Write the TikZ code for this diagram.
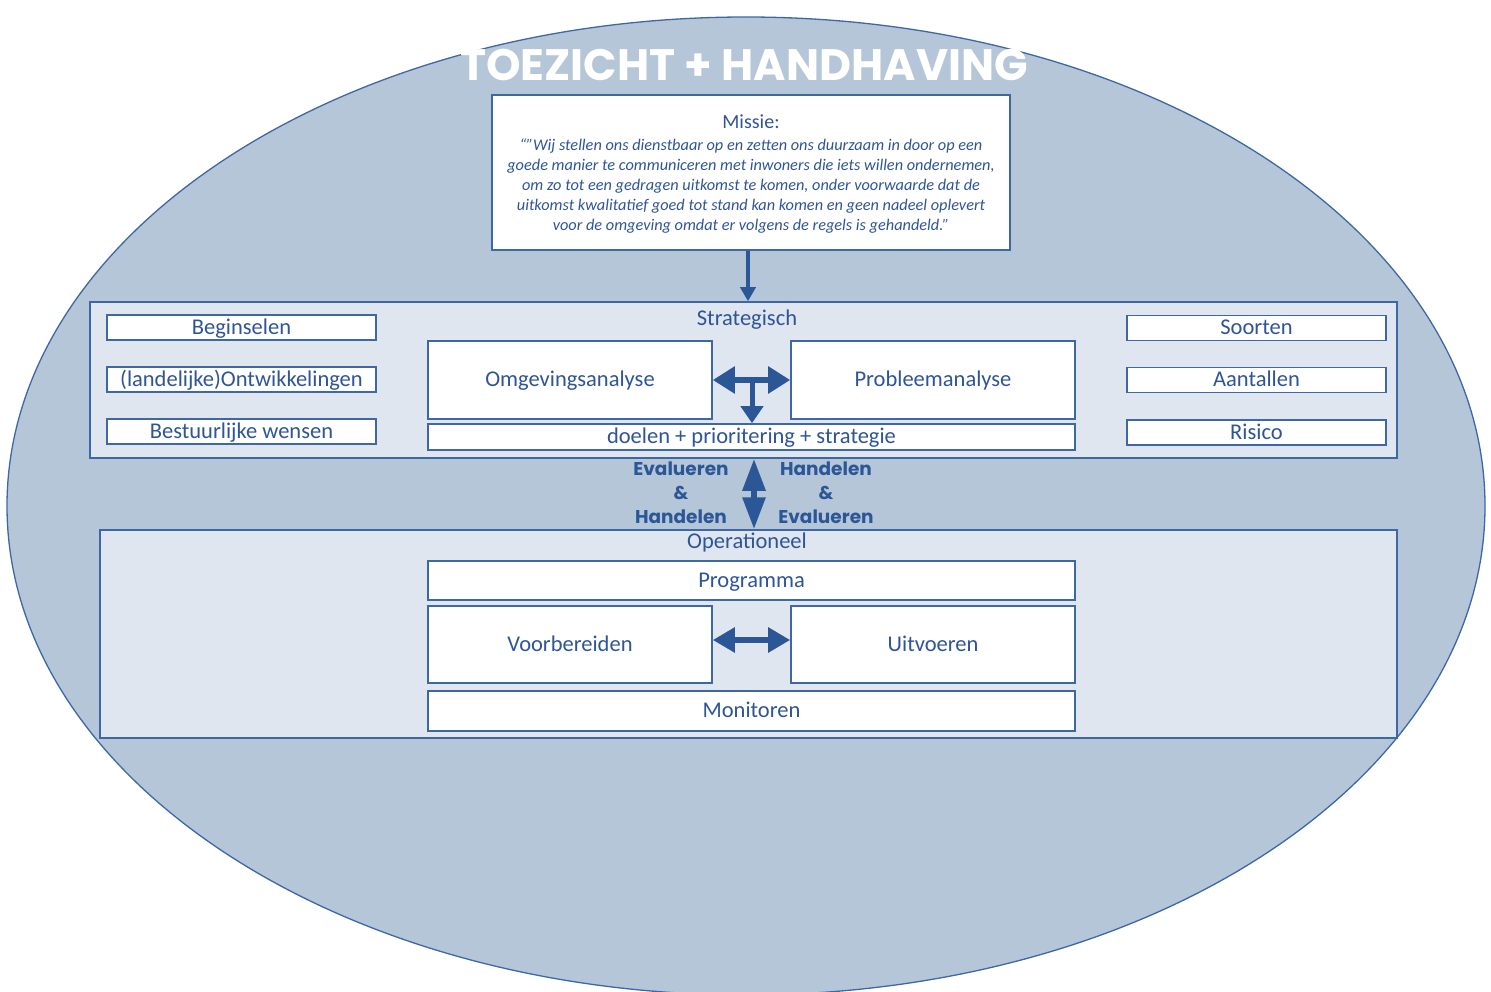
\documentclass[tikz,border=0pt]{standalone}
\usepackage{fontspec}
\setmainfont{Carlito}
\newfontfamily\titlefont{Poppins}
\usetikzlibrary{arrows.meta}
\definecolor{ellfill}{HTML}{B5C6D9}
\definecolor{edgeblue}{HTML}{3D68A5}
\definecolor{panelfill}{HTML}{DFE6EF}
\definecolor{txtblue}{HTML}{2F5597}
\definecolor{arrblue}{HTML}{2B5797}
\tikzset{
  panel/.style={draw=edgeblue, fill=panelfill, line width=1.5pt, inner sep=0pt},
  wbox/.style={draw=edgeblue, fill=white, line width=1.6pt, inner sep=0pt, text=txtblue, font=\fontsize{22.5}{24}\selectfont, text height=15pt, text depth=1.5pt},
  lbl/.style={text=txtblue, font=\fontsize{22.5}{24}\selectfont, inner sep=0pt},
  evl/.style={text=arrblue, font=\titlefont\bfseries\fontsize{18.5}{24}\selectfont, align=center, inner sep=0pt},
  arr/.style={draw=arrblue, line width=#1},
}
\begin{document}
\begin{tikzpicture}[x=1pt,y=-1pt]
\useasboundingbox (0,0) rectangle (1491,992);
\begin{scope}
\clip (0,0) rectangle (1491,992);
\fill[ellfill] (746,506) ellipse [x radius=739, y radius=489];
\draw[edgeblue, line width=1.3pt] (746,506) ellipse [x radius=739, y radius=489];
\end{scope}

\node[text=white, font=\titlefont\bfseries\fontsize{44}{44}\selectfont, inner sep=0pt] (title) at (744,65) {TOEZICHT + HANDHAVING};

% mission
\node[draw=edgeblue, fill=white, line width=1.6pt, inner sep=0pt, minimum width=518, minimum height=155] (missie) at (751,172.5) {};
\node[lbl, font=\fontsize{20}{20}\selectfont] (missietitle) at (751,122) {Missie:};
\node[lbl, font=\itshape\fontsize{16.3}{20}\selectfont, align=center] (missietext) at (751,186) {%
“"Wij stellen ons dienstbaar op en zetten ons duurzaam in door op een\\
goede manier te communiceren met inwoners die iets willen ondernemen,\\
om zo tot een gedragen uitkomst te komen, onder voorwaarde dat de\\
uitkomst kwalitatief goed tot stand kan komen en geen nadeel oplevert\\
voor de omgeving omdat er volgens de regels is gehandeld."};

% strategic panel
\node[panel, minimum width=1307, minimum height=156] (strat) at (743.5,380) {};
\node[lbl] (stratlbl) at (747,320) {Strategisch};
\node[wbox, minimum width=269, minimum height=25] (beg) at (241.5,327.5) {Beginselen};
\node[wbox, minimum width=269, minimum height=25] (ont) at (241.5,379.5) {(landelijke)Ontwikkelingen};
\node[wbox, minimum width=269, minimum height=25] (bes) at (241.5,431.5) {Bestuurlijke wensen};
\node[wbox, minimum width=259, minimum height=25] (soo) at (1256.5,328) {Soorten};
\node[wbox, minimum width=259, minimum height=25] (aan) at (1256.5,380) {Aantallen};
\node[wbox, minimum width=259, minimum height=25] (ris) at (1256.5,432.5) {Risico};
\node[wbox, minimum width=284, minimum height=78] (omg) at (570,380) {Omgevingsanalyse};
\node[wbox, minimum width=284, minimum height=78] (prob) at (933,380) {Probleemanalyse};
\node[wbox, minimum width=647, minimum height=26] (doel) at (751.5,437) {doelen + prioritering + strategie};

% operational panel
\node[panel, minimum width=1297, minimum height=208] (oper) at (748.5,634) {};
\node[lbl] (operlbl) at (747,542) {Operationeel};
\node[wbox, minimum width=647, minimum height=39] (prog) at (751.5,580.5) {Programma};
\node[wbox, minimum width=284, minimum height=77] (voor) at (570,644.5) {Voorbereiden};
\node[wbox, minimum width=284, minimum height=77] (uitv) at (933,644.5) {Uitvoeren};
\node[wbox, minimum width=647, minimum height=40] (mon) at (751.5,711) {Monitoren};

% evaluation labels
\node[evl] (evl1) at (681,493) {Evalueren\\\&\\Handelen};
\node[evl] (evl2) at (826,493) {Handelen\\\&\\Evalueren};

% arrows
\coordinate (ax1) at (748,0);
\draw[arr=4pt, -{Triangle[length=14pt,width=15pt]}] (missie.south -| ax1) -- (strat.north -| ax1);

\coordinate (ay1) at (0,380);
\draw[arr=6pt, {Triangle[length=22pt,width=26pt]}-{Triangle[length=22pt,width=26pt]}] (omg.east |- ay1) -- (prob.west |- ay1);
\coordinate (ax2) at (752,0);
\draw[arr=5pt, -{Triangle[length=17pt,width=22pt]}] (752,378) -- (doel.north -| ax2);

\coordinate (ay2) at (0,640);
\draw[arr=6pt, {Triangle[length=22pt,width=24pt]}-{Triangle[length=22pt,width=24pt]}] (voor.east |- ay2) -- (uitv.west |- ay2);

\coordinate (ax3) at (754,0);
\draw[arr=6pt, {Triangle[length=32pt,width=22pt]}-{Triangle[length=32pt,width=22pt]}] (strat.south -| ax3) -- (oper.north -| ax3);
\end{tikzpicture}
\end{document}
